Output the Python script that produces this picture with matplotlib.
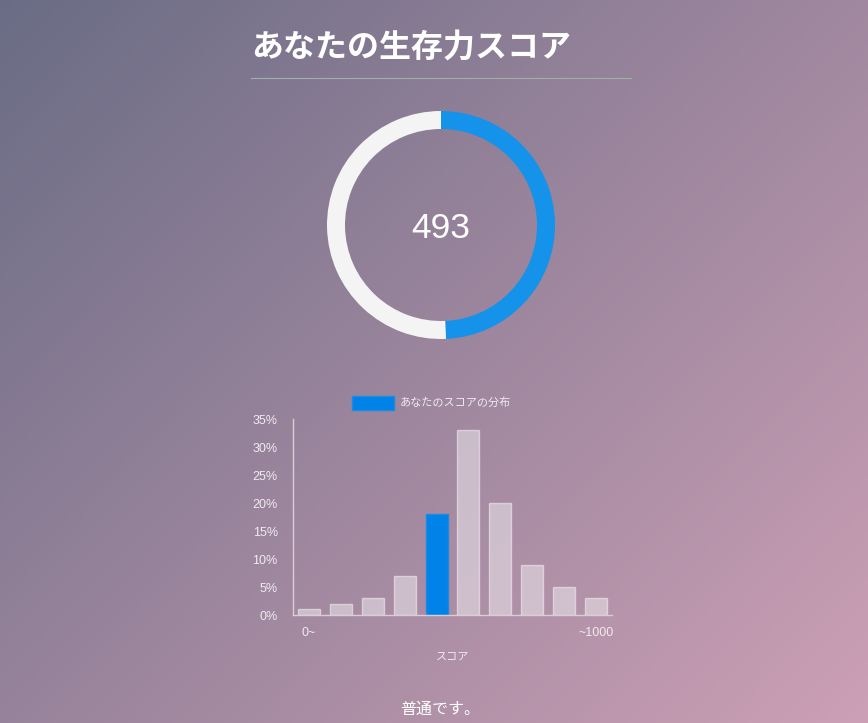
import numpy as np
import matplotlib
matplotlib.use("Agg")
import matplotlib.pyplot as plt
from matplotlib.patches import Rectangle

plt.rcParams['font.family'] = ['Noto Sans CJK JP', 'DejaVu Sans']

# ---- data ----
title = "あなたの生存力スコア"
score = 493
score_max = 1000
bins = ["0~", "", "", "", "", "", "", "", "", "~1000"]
dist_values = [1, 2, 3, 7, 18, 33, 20, 9, 5, 3]
user_bin = 4
legend_label = "あなたのスコアの分布"
x_label = "スコア"
verdict = "普通です。"
y_ticks = [0, 5, 10, 15, 20, 25, 30, 35]

W, H = 868, 723
fig = plt.figure(figsize=(W / 100, H / 100), dpi=100)

def px_axes(left, top, right, bottom, **kw):
    return fig.add_axes([left / W, 1 - bottom / H, (right - left) / W, (bottom - top) / H], **kw)

# ---- background gradient ----
bg = px_axes(0, 0, W, H)
c1 = np.array([0x6a, 0x6c, 0x85]) / 255
c2 = np.array([0xcd, 0xa0, 0xb6]) / 255
yy, xx = np.mgrid[0:H, 0:W]
t = (xx / W * 0.55 + yy / H * 0.45)
t = np.clip(t, 0, 1)[..., None]
img = c1 * (1 - t) + c2 * t
bg.imshow(img, extent=[0, W, H, 0], aspect='auto')
bg.set_xlim(0, W)
bg.set_ylim(H, 0)
bg.axis('off')

# title
bg.text(251, 48, title, color='white', fontsize=23, fontweight='bold', ha='left', va='center')
bg.plot([251, 631], [78, 78], color='#9fb0a6', lw=0.8)

# verdict
bg.text(440, 709, verdict, color='white', fontsize=11.5, ha='center', va='center')

# ---- donut ----
R = 114
side = 260
cx, cy = 441, 225
dax = px_axes(cx - side / 2, cy - side / 2, cx + side / 2, cy + side / 2)
dax.pie([score, score_max - score], colors=['#1592ea', '#f4f4f4'], startangle=90,
        counterclock=False, radius=1, wedgeprops=dict(width=18 / R, linewidth=0))
lim = side / 2 / R
dax.set_xlim(-lim, lim)
dax.set_ylim(-lim, lim)
dax.set_aspect('equal')
dax.axis('off')
dax.text(0, -0.03, str(score), color='white', fontsize=25.5, ha='center', va='center',
         fontfamily=['Liberation Sans'])

# ---- bar chart ----
bax = px_axes(293, 419, 612, 615)
bax.patch.set_alpha(0)
x = np.arange(len(dist_values))
colors = ['#0083e8' if i == user_bin else (0.9, 0.88, 0.9, 0.6) for i in x]
edges = ['#1f8ae0' if i == user_bin else (0.95, 0.93, 0.95, 0.6) for i in x]
bax.bar(x, dist_values, width=0.69, color=colors, edgecolor=edges, linewidth=1)
bax.set_xlim(-0.5, len(dist_values) - 0.5)
bax.set_ylim(0, 35)
bax.set_yticks(y_ticks)
bax.set_yticklabels([f"{v}%" for v in y_ticks])
bax.set_xticks(x)
bax.set_xticklabels(bins)
for s in ['top', 'right']:
    bax.spines[s].set_visible(False)
for s in ['left', 'bottom']:
    bax.spines[s].set_color('#d9cdd6')
    bax.spines[s].set_linewidth(1)
bax.tick_params(axis='both', length=0, colors='#f2eaf0', labelsize=9)
bax.tick_params(axis='y', pad=11)
bax.tick_params(axis='x', pad=9)
bax.set_xlabel(x_label, color='#f2eaf0', fontsize=8, labelpad=9)
for lab in bax.get_yticklabels() + bax.get_xticklabels():
    lab.set_fontfamily(['Liberation Sans'])

# legend
bg.add_patch(Rectangle((352, 396), 42, 14, facecolor='#0083e8', edgecolor='#1f8ae0', lw=1))
bg.text(400, 403, legend_label, color='#f2eaf0', fontsize=8, ha='left', va='center')

fig.savefig("out.png", dpi=100)
